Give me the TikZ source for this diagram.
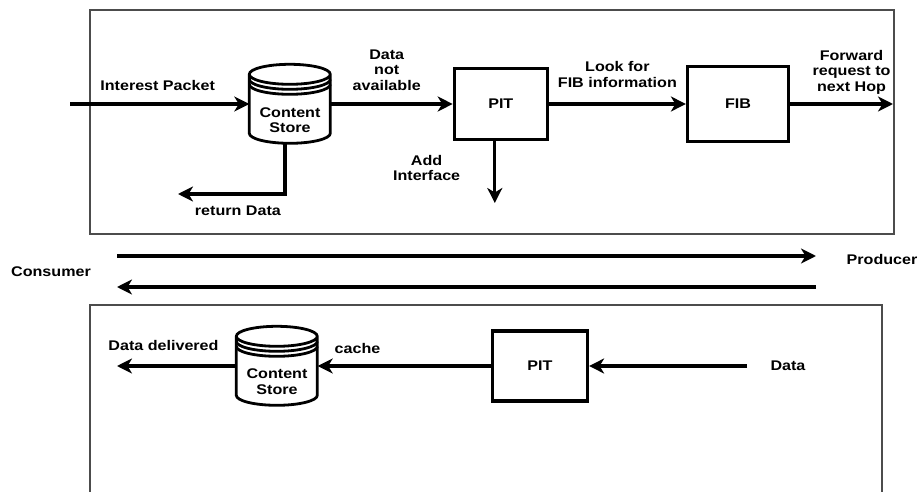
\documentclass[tikz,border=0pt]{standalone}
\usepackage{fontspec}
\setmainfont{Liberation Sans}[FakeStretch=1.15]
\usepackage{tikz}
\usetikzlibrary{shapes,arrows.meta,positioning,calc}

% outline of a draw.io style data store round node #1
\newcommand{\drawstore}[1]{%
  \draw[storeline] (#1.north west) ++(0,-10) -- ++(0,-59)
    arc[start angle=180,end angle=360,x radius=40.5,y radius=10] -- ++(0,59)
    arc[start angle=0,end angle=180,x radius=40.5,y radius=10]
    arc[start angle=180,end angle=360,x radius=40.5,y radius=10];
  \draw[storeline] (#1.north west) ++(0,-15) arc[start angle=180,end angle=360,x radius=40.5,y radius=10];
  \draw[storeline] (#1.north west) ++(0,-20) arc[start angle=180,end angle=360,x radius=40.5,y radius=10];
}

\begin{document}
\begin{tikzpicture}[x=1pt, y=1pt, node distance=120pt,
        font=\fontsize{14}{15.5}\selectfont\bfseries,
        block/.style={rectangle, draw, line width=3.2pt, minimum width=93pt, minimum height=71pt, inner sep=0pt},
        store/.style={rectangle, minimum width=81pt, minimum height=79pt, inner sep=0pt},
        storeline/.style={line width=2.8pt},
        lbl/.style={inner sep=0pt, align=center},
        flow/.style={line width=3.2pt, -{Stealth[length=15pt,width=15pt,inset=4.5pt]}},
        frame/.style={draw=black!70, line width=1.2pt}]
        \useasboundingbox (0,0) rectangle (919,-492);

        % frames
        \draw[frame] (90,-10) rectangle (894,-234);
        \draw[frame] (90,-494) -- (90,-305) -- (882,-305) -- (882,-494);

        % interest path
        \node[store] (cs) at (290,-104) {};
        \drawstore{cs}
        \node[lbl] (cstxt) at ([yshift=-16pt]cs.center) {Content\\Store};
        \node[block, right=122pt of cs] (pit) {PIT};
        \node[block, minimum width=101pt, minimum height=75pt, right=137pt of pit] (fib) {FIB};
        \coordinate (ipin) at (70,-104);
        \coordinate (nhop) at (893,-104);
        \coordinate (addif) at ([xshift=-6pt]pit.south |- 0,-203);
        \coordinate (rdata) at (178,-194);

        \draw[flow] (ipin) -- node[lbl, midway, above=12pt, xshift=-2pt] (iplbl) {Interest Packet} (cs);
        \draw[flow] (cs) -- node[lbl, midway, above=12pt, xshift=-5pt] (nalbl) {Data\\not\\available} (pit);
        \draw[flow] (pit) -- node[lbl, midway, above=15pt] (fiblbl) {Look for\\FIB information} (fib);
        \draw[flow] (fib) -- node[lbl, midway, above=8pt, xshift=10pt] (fwlbl) {Forward\\request to\\next Hop} (nhop);
        \draw[flow] ([xshift=-6pt]pit.south) -- node[lbl, midway, left=33pt, yshift=4pt] (aflbl) {Add\\Interface} (addif);
        \draw[flow] ([xshift=-5pt]cs.south) |- node[lbl, pos=0.72, below=10pt] (rdlbl) {return Data} (rdata);

        % consumer and producer
        \node[lbl] (cons) at (51,-272) {Consumer};
        \node[lbl] (prod) at (882,-259) {Producer};
        \coordinate (c1) at (117,-256);
        \coordinate (p1) at (816,-256);
        \coordinate (c2) at (117,-287);
        \coordinate (p2) at (816,-287);
        \draw[flow] (c1) -- (p1);
        \draw[flow] (p2) -- (c2);

        % data path
        \node[store] (cs2) at (277,-366) {};
        \drawstore{cs2}
        \node[lbl] (cs2txt) at ([yshift=-15.5pt]cs2.center) {Content\\Store};
        \node[block, minimum width=95pt, minimum height=70pt] (pit2) at (540,-366) {PIT};
        \node[lbl] (dtlbl) at (788,-366) {Data};
        \coordinate (din) at (747,-366);
        \coordinate (dout) at (117,-366);

        \draw[flow] (din) -- (pit2);
        \draw[flow] (pit2) -- node[lbl, pos=0.77, above=11pt] (cachelbl) {cache} (cs2);
        \draw[flow] (cs2) -- node[lbl, pos=0.61, above=14pt] (ddlbl) {Data delivered} (dout);
\end{tikzpicture}
\end{document}
